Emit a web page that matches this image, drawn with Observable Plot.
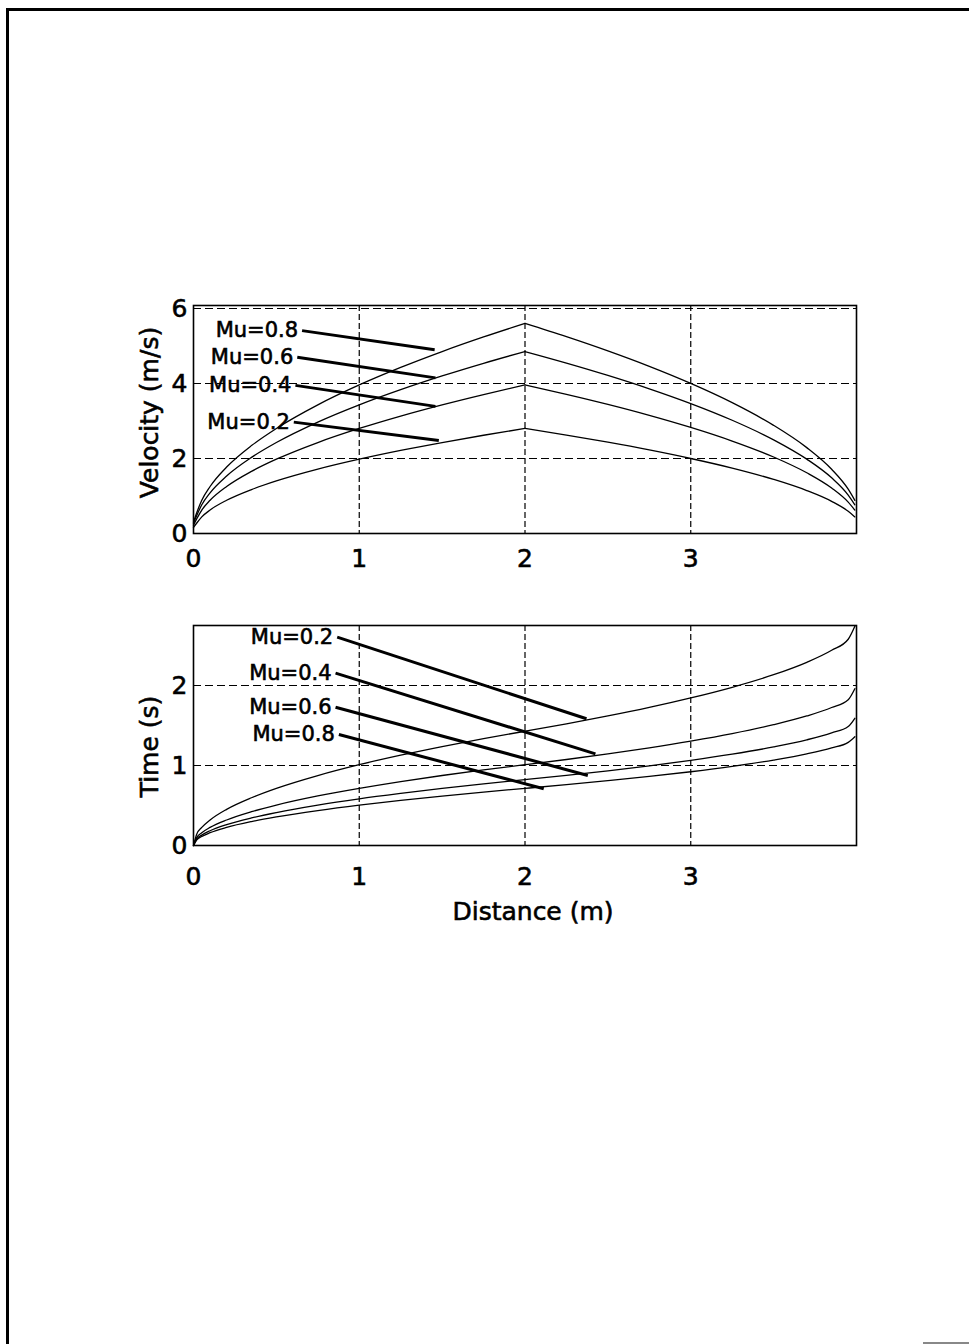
<!DOCTYPE html>
<html><head><meta charset="utf-8">
<script src="https://cdn.jsdelivr.net/npm/d3@7"></script>
<script src="https://cdn.jsdelivr.net/npm/@observablehq/plot@0.6"></script>
<style>
html,body{margin:0;padding:0;background:#fff;}
#page{position:relative;width:969px;height:1344px;overflow:hidden;background:#fff;}
#border{position:absolute;left:6px;top:8px;width:980px;height:1350px;border-top:3px solid #000;border-left:3px solid #000;}
#grayline{position:absolute;left:923px;top:1342px;width:46px;height:2px;background:#888;}
#top,#bottom{position:absolute;left:0;}
#top{top:0px;}
#bottom{top:590px;}
svg{overflow:visible;}
#page svg text{stroke:#000;stroke-width:0.6px;}
</style></head><body>
<div id="page"><div id="border"></div><div id="grayline"></div><div id="top"></div><div id="bottom"></div></div>
<script>
// ---- data ----
const distance = [0, 0.02, 0.05, 0.1, 0.2, 0.35, 0.5, 0.75, 1, 1.25, 1.5, 1.75, 2, 2.25, 2.5, 2.75, 3, 3.25, 3.5, 3.7, 3.85, 3.95, 3.99];

const velocityMu08 = [0.30, 0.56, 0.886, 1.253, 1.772, 2.344, 2.801, 3.431, 3.962, 4.429, 4.852, 5.241, 5.603, 5.248, 4.868, 4.456, 4.001, 3.488, 2.884, 2.290, 1.713, 1.182, 0.884];
const velocityMu06 = [0.27, 0.485, 0.767, 1.085, 1.534, 2.030, 2.426, 2.971, 3.431, 3.836, 4.202, 4.539, 4.852, 4.545, 4.216, 3.859, 3.465, 3.020, 2.498, 1.983, 1.484, 1.024, 0.766];
const velocityMu04 = [0.22, 0.396, 0.626, 0.886, 1.253, 1.657, 1.981, 2.426, 2.801, 3.132, 3.431, 3.706, 3.962, 3.711, 3.443, 3.151, 2.829, 2.466, 2.040, 1.619, 1.212, 0.836, 0.625];
const velocityMu02 = [0.16, 0.280, 0.443, 0.626, 0.886, 1.172, 1.401, 1.716, 1.981, 2.215, 2.426, 2.620, 2.801, 2.624, 2.434, 2.228, 2.000, 1.744, 1.442, 1.145, 0.857, 0.591, 0.442];

const timeMu02 = [0, 0.143, 0.226, 0.319, 0.452, 0.597, 0.714, 0.874, 1.010, 1.129, 1.237, 1.336, 1.428, 1.520, 1.619, 1.726, 1.845, 1.978, 2.135, 2.290, 2.440, 2.578, 2.74];
const timeMu04 = [0, 0.101, 0.160, 0.226, 0.319, 0.422, 0.505, 0.619, 0.714, 0.799, 0.875, 0.945, 1.010, 1.075, 1.145, 1.221, 1.305, 1.399, 1.510, 1.619, 1.725, 1.823, 1.96];
const timeMu06 = [0, 0.082, 0.130, 0.184, 0.261, 0.345, 0.412, 0.505, 0.583, 0.651, 0.714, 0.771, 0.824, 0.877, 0.934, 0.996, 1.064, 1.141, 1.232, 1.321, 1.408, 1.487, 1.59];
const timeMu08 = [0, 0.071, 0.113, 0.160, 0.226, 0.299, 0.357, 0.437, 0.505, 0.564, 0.618, 0.668, 0.714, 0.760, 0.810, 0.863, 0.922, 0.989, 1.068, 1.145, 1.220, 1.289, 1.36];

const xTicks = [0, 1, 2, 3];
const velocityTicks = [0, 2, 4, 6];
const timeTicks = [0, 1, 2];

// annotation labels and their leader lines (data units)
const velocityLabels = ["Mu=0.8", "Mu=0.6", "Mu=0.4", "Mu=0.2"];
const velocityLeaderFromX = [0.655, 0.626, 0.615, 0.605];
const velocityLeaderFromY = [5.41, 4.70, 3.95, 2.97];
const velocityLeaderToX = [1.455, 1.46, 1.46, 1.48];
const velocityLeaderToY = [4.90, 4.15, 3.39, 2.48];

const timeLabels = ["Mu=0.2", "Mu=0.4", "Mu=0.6", "Mu=0.8"];
const timeLeaderFromX = [0.867, 0.857, 0.857, 0.877];
const timeLeaderFromY = [2.604, 2.154, 1.729, 1.388];
const timeLeaderToX = [2.371, 2.425, 2.379, 2.113];
const timeLeaderToY = [1.584, 1.146, 0.875, 0.709];

// ---- tables ----
// each curve is split at the turning point (distance 2) so the peak stays sharp
const toRows = (series) => series.flatMap(([mu, values]) => distance.flatMap((d, i) => {
  const rows = [];
  if (d <= 2) rows.push({distance: d, value: values[i], curve: mu + "-up"});
  if (d >= 2) rows.push({distance: d, value: values[i], curve: mu + "-down"});
  return rows;
}));
const velocityRows = toRows([["0.8", velocityMu08], ["0.6", velocityMu06], ["0.4", velocityMu04], ["0.2", velocityMu02]]);
const timeRows = toRows([["0.2", timeMu02], ["0.4", timeMu04], ["0.6", timeMu06], ["0.8", timeMu08]]);
const leaders = (labels, fx, fy, tx, ty) => labels.map((label, i) => ({label, x1: fx[i], y1: fy[i], x2: tx[i], y2: ty[i]}));
const velocityLeaders = leaders(velocityLabels, velocityLeaderFromX, velocityLeaderFromY, velocityLeaderToX, velocityLeaderToY);
const timeLeaders = leaders(timeLabels, timeLeaderFromX, timeLeaderFromY, timeLeaderToX, timeLeaderToY);

const FONT = "DejaVu Sans, Arial, sans-serif";
const fmt = d => String(d);

function panel({rows, yDomain, yTicks, hGrid, leaderData, yLabel, xLabel, height, marginTop, marginBottom, xPad, yLabelDy}) {
  const marks = [
    Plot.gridX([1, 2, 3], {stroke: "black", strokeOpacity: 1, strokeWidth: 1.2, strokeDasharray: "6,3"}),
    Plot.gridY(hGrid, {stroke: "black", strokeOpacity: 1, strokeWidth: 1.2, strokeDasharray: "8,4"}),
    Plot.line(rows, {x: "distance", y: "value", z: "curve", stroke: "black", strokeWidth: 1.3, curve: "monotone-x"}),
    Plot.link(leaderData, {x1: "x1", y1: "y1", x2: "x2", y2: "y2", stroke: "black", strokeWidth: 3}),
    Plot.text(leaderData, {x: "x1", y: "y1", text: "label", textAnchor: "end", lineAnchor: "middle", dx: -4, fontSize: 21, fill: "black"}),
    Plot.frame({stroke: "black", strokeWidth: 1.6}),
    Plot.axisX(xTicks, {tickSize: 0, tickPadding: xPad, fontSize: 25, label: null, fill: "black", tickFormat: fmt}),
    Plot.axisY(yTicks, {tickSize: 0, tickPadding: 6, fontSize: 25, label: null, fill: "black", tickFormat: fmt}),
    Plot.text([yLabel], {text: d => d, frameAnchor: "left", rotate: -90, dx: -44, dy: yLabelDy, fontSize: 25, textAnchor: "middle", lineAnchor: "middle", fill: "black"})
  ];
  if (xLabel) marks.push(Plot.text([xLabel], {text: d => d, frameAnchor: "bottom", dy: 66, dx: 8, fontSize: 25, textAnchor: "middle", lineAnchor: "middle", fill: "black"}));
  return Plot.plot({
    width: 969, height,
    marginLeft: 193, marginRight: 113, marginTop, marginBottom,
    style: {fontFamily: FONT, fontSize: "24px", color: "black", background: "transparent", overflow: "visible"},
    x: {domain: [0, 4], axis: null},
    y: {domain: yDomain, axis: null},
    marks
  });
}

document.getElementById("top").appendChild(panel({
  rows: velocityRows, yDomain: [0, 6.08], yTicks: velocityTicks, hGrid: [2, 4, 6],
  leaderData: velocityLeaders, yLabel: "Velocity (m/s)", xLabel: null,
  height: 590, marginTop: 305, marginBottom: 57, xPad: 16, yLabelDy: -7
}));
document.getElementById("bottom").appendChild(panel({
  rows: timeRows, yDomain: [0, 2.75], yTicks: timeTicks, hGrid: [1, 2],
  leaderData: timeLeaders, yLabel: "Time (s)", xLabel: "Distance (m)",
  height: 340, marginTop: 35, marginBottom: 85, xPad: 22, yLabelDy: 11
}));
</script>
</body></html>
